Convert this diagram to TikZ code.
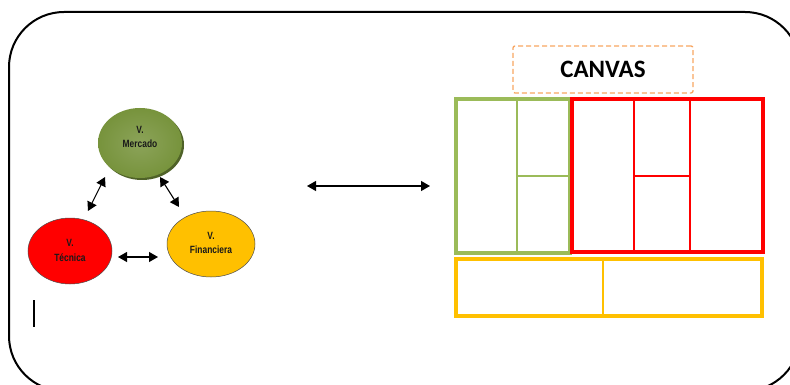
\documentclass[tikz,border=0pt]{standalone}
\usepackage{fontspec}
\setmainfont{Liberation Sans}
\newfontfamily\narrowfont[FakeStretch=0.80]{Liberation Sans}
\newfontfamily\canvasfont{Carlito}
\usetikzlibrary{shapes.geometric,arrows.meta}
\definecolor{olivefill}{HTML}{77933C}
\definecolor{olivedark}{HTML}{4F6228}
\definecolor{redfill}{HTML}{FF0000}
\definecolor{goldfill}{HTML}{FFC000}
\definecolor{cvgreen}{HTML}{9BBB59}
\definecolor{cvorange}{HTML}{F79646}
\newcommand{\vlabel}[2][0pt]{\begin{tabular}{@{}c@{}}#2\end{tabular}\rule[-#1]{0pt}{0pt}}
\tikzset{
  vnode/.style={ellipse, draw=black!70, line width=0.5pt, minimum width=84pt, minimum height=66pt, inner sep=0pt, align=center, font=\narrowfont\bfseries\fontsize{10.5}{14}\selectfont, text=black!90},
  arr/.style={{Triangle[length=9pt,width=10pt]}-{Triangle[length=9pt,width=10pt]}, line width=1.1pt, black},
  thickg/.style={draw=cvgreen, line width=4pt},
  thing/.style={draw=cvgreen, line width=2pt},
  thickr/.style={draw=redfill, line width=4pt},
  thinr/.style={draw=redfill, line width=2pt},
  thicky/.style={draw=goldfill, line width=3.5pt},
  thiny/.style={draw=goldfill, line width=2pt},
}
\begin{document}
\begin{tikzpicture}[x=1pt,y=-1pt]
\useasboundingbox (0,0) rectangle (790,385);
\clip (0,0) rectangle (790,385);
\fill[white] (0,0) rectangle (790,385);
% outer frame
\draw[line width=2pt, rounded corners=55pt] (9,12) rectangle (800,391);
% cursor mark
\draw[line width=1.4pt] (34,300) -- (34,327);
% ellipses
\fill[olivedark] (142,145) ellipse [x radius=42pt, y radius=35pt];
\node[vnode, draw=none, inner color=olivefill!85!white, outer color=olivefill, minimum height=70pt] (m) at (140,143) {\vlabel[22pt]{V.\\Mercado}};
\node[vnode, fill=redfill] (t) at (70,251) {\vlabel[10pt]{V.\\[1pt]T\'ecnica}};
\node[vnode, fill=goldfill, minimum width=88pt] (f) at (211,244) {\vlabel[12pt]{V.\\Financiera}};
% arrow endpoints
\coordinate (mt1) at (105,177);
\coordinate (mt2) at (88,211);
\coordinate (mf1) at (160,177);
\coordinate (mf2) at (179,207);
\coordinate (tf1) at (118,257);
\coordinate (tf2) at (158,257);
\coordinate (c1) at (307,186);
\coordinate (c2) at (430,186);
\draw[arr] (mt1) -- (mt2);
\draw[arr] (mf1) -- (mf2);
\draw[arr] (tf1) -- (tf2);
\draw[arr, line width=1.2pt] (c1) -- (c2);
% canvas title
\node[draw=cvorange!85!white, dashed, dash pattern=on 5pt off 3pt, line width=1.3pt, rounded corners=2pt, minimum width=180pt, minimum height=47pt, font=\canvasfont\bfseries\fontsize{25}{27}\selectfont] (cv) at (603,69.5) {CANVAS};
% canvas grid
\draw[thing] (517,99) -- (517,253);
\draw[thing] (517,176) -- (570,176);
\draw[thickg] (456,99) rectangle (570,253);
\draw[thinr] (634,99) -- (634,252);
\draw[thinr] (690,99) -- (690,252);
\draw[thinr] (634,176) -- (690,176);
\draw[thickr] (572,99) rectangle (763,252);
\draw[thiny] (603,259) -- (603,316);
\draw[thicky] (456,259) rectangle (762,316);
\end{tikzpicture}
\end{document}
